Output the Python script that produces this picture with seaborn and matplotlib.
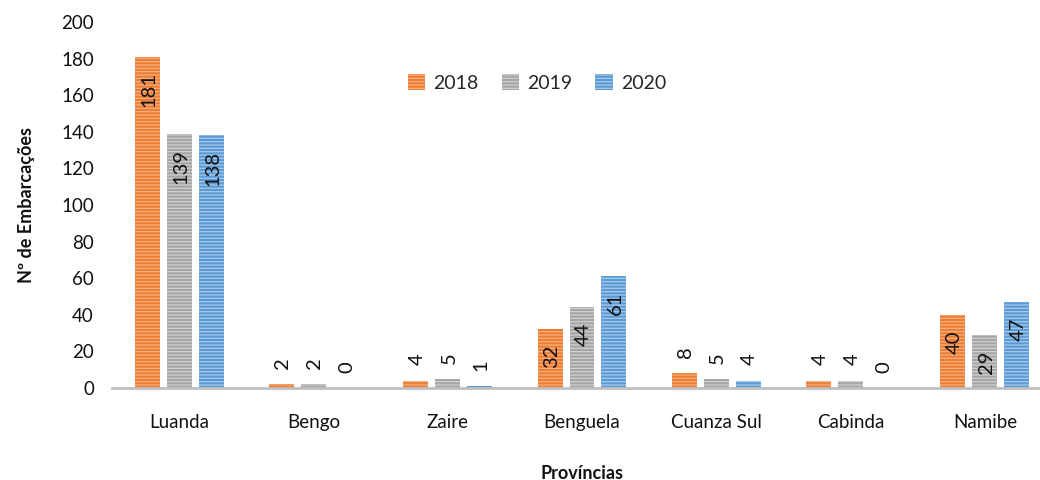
import matplotlib
matplotlib.use("Agg")
import matplotlib.pyplot as plt
from matplotlib.patches import Patch
import seaborn as sns
import pandas as pd

provincias = ["Luanda", "Bengo", "Zaire", "Benguela", "Cuanza Sul", "Cabinda", "Namibe"]
anos = ["2018", "2019", "2020"]
v2018 = [181, 2, 4, 32, 8, 4, 40]
v2019 = [139, 2, 5, 44, 5, 4, 29]
v2020 = [138, 0, 1, 61, 4, 0, 47]

colors = {"2018": "#ED7D31", "2019": "#A5A5A5", "2020": "#5B9BD5"}
hatch_colors = {"2018": "#F6B084", "2019": "#D0D0D0", "2020": "#A7C9EA"}

rows = []
for ano, vals in zip(anos, [v2018, v2019, v2020]):
    for p, v in zip(provincias, vals):
        rows.append({"Província": p, "Ano": ano, "Valor": v})
df = pd.DataFrame(rows)

sns.set_theme(style="white")
plt.rcParams["font.family"] = ["Lato", "DejaVu Sans"]
plt.rcParams["hatch.linewidth"] = 0.9

fig = plt.figure(figsize=(10.4, 4.8), dpi=100)
ax = fig.add_axes([112 / 1040, 1 - 388 / 480, (1052 - 112) / 1040, 366 / 480])

sns.barplot(data=df, x="Província", y="Valor", hue="Ano", order=provincias,
            hue_order=anos, palette=colors, width=0.714, gap=0.22,
            ax=ax, legend=False, saturation=1)

for cont, ano in zip(ax.containers, anos):
    for bar in cont:
        bar.set_hatch("-----")
        bar.set_edgecolor(hatch_colors[ano])
        bar.set_linewidth(0)
    for bar, v in zip(cont, df[df["Ano"] == ano]["Valor"]):
        xc = bar.get_x() + bar.get_width() / 2
        if v >= 20:
            ax.annotate(str(v), (xc, v), xytext=(1, -11), textcoords="offset points",
                        rotation=90, ha="center", va="top", fontsize=14.5, color="#111111")
        else:
            ax.annotate(str(v), (xc, max(v, 0)), xytext=(1, 11), textcoords="offset points",
                        rotation=90, ha="center", va="bottom", fontsize=14.5, color="#111111")

ax.set_xlim(-0.5, 6.5)
ax.set_ylim(0, 200)
ax.set_yticks(range(0, 201, 20))
ax.tick_params(axis="both", length=0, labelsize=13.5, colors="#111111")
ax.tick_params(axis="x", pad=19)
ax.tick_params(axis="y", pad=13)
for s in ["top", "right", "left"]:
    ax.spines[s].set_visible(False)
ax.spines["bottom"].set_color("#BFBFBF")
ax.spines["bottom"].set_linewidth(2)

ax.set_xlabel("Províncias", fontsize=13, fontweight="bold", labelpad=24, color="#111111")
ax.set_ylabel("Nº de Embarcações", fontsize=13, fontweight="bold", labelpad=19, color="#111111")

handles = [Patch(facecolor=colors[a], edgecolor=hatch_colors[a], hatch="-----", linewidth=0, label=a)
           for a in anos]
ax.legend(handles=handles, loc="center", bbox_to_anchor=(0.452, 0.833), ncol=3,
          frameon=False, fontsize=14, handlelength=0.9, handleheight=0.9,
          handletextpad=0.4, columnspacing=1.2)

fig.savefig("out.png", dpi=100)
